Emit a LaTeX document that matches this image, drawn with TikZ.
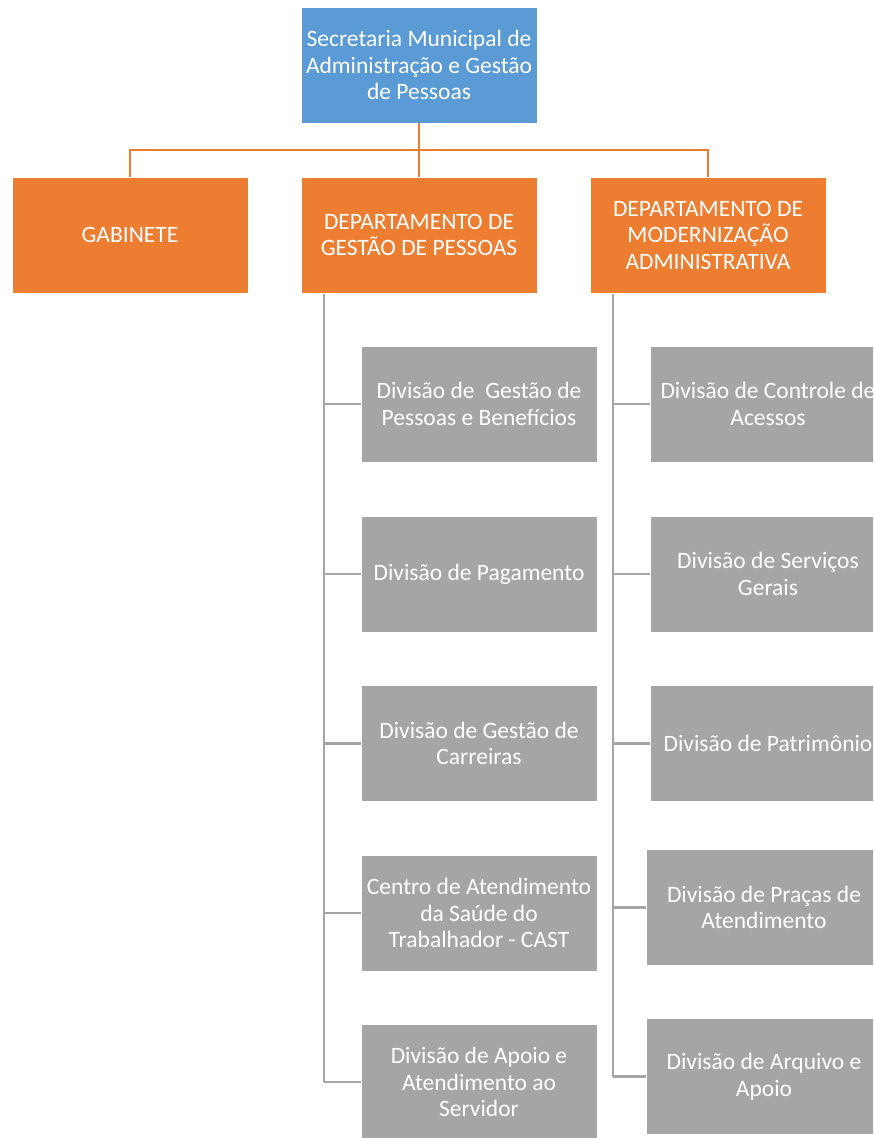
\documentclass[tikz,border=0pt]{standalone}
\usepackage{fontspec}
\setmainfont{Carlito}
\definecolor{cblue}{HTML}{5B9BD5}
\definecolor{corange}{HTML}{ED7D31}
\definecolor{cgray}{HTML}{A5A5A5}
\tikzset{
  box/.style={rectangle, inner sep=0pt, minimum width=236pt, minimum height=116pt,
    align=center, text=white, font=\fontsize{23.5}{26.5}\selectfont,
    draw=white, line width=0.6pt},
  topbox/.style={box, fill=cblue},
  deptbox/.style={box, fill=corange},
  divbox/.style={box, fill=cgray},
  oline/.style={draw=corange, line width=2.5pt},
  gline/.style={draw=cgray, line width=2.5pt},
}
\begin{document}
\begin{tikzpicture}[x=1pt,y=-1pt]
\useasboundingbox (0,0) rectangle (873,1138);
\clip (0,0) rectangle (873,1138);
% top
\node[topbox] (top) at (419,65) {Secretaria Municipal de\\Administração e Gestão\\de Pessoas};
% departments
\node[deptbox] (gab) at (130,235) {GABINETE};
\node[deptbox] (dgp) at (419,235) {DEPARTAMENTO DE\\GESTÃO DE PESSOAS};
\node[deptbox] (dma) at (708,235) {DEPARTAMENTO DE\\MODERNIZAÇÃO\\ADMINISTRATIVA};
% orange connectors
\coordinate (bus) at (419,150);
\draw[oline] (top.south) -- (bus);
\draw[oline] (bus) -| (gab.north);
\draw[oline] (bus) -| (dma.north);
\draw[oline] (bus) -- (dgp.north);
% left divisions
\node[divbox] (a1) at (479,404) {Divisão de~ Gestão de\\Pessoas e Benefícios};
\node[divbox] (a2) at (479,574) {Divisão de Pagamento};
\node[divbox] (a3) at (479,743.5) {Divisão de Gestão de\\Carreiras};
\node[divbox] (a4) at (479,913) {Centro de Atendimento\\da Saúde do\\Trabalhador - CAST};
\node[divbox] (a5) at (479,1082) {Divisão de Apoio e\\Atendimento ao\\Servidor};
% right divisions
\node[divbox] (b1) at (768,404) {Divisão de Controle de\\Acessos};
\node[divbox] (b2) at (768,574) {Divisão de Serviços\\Gerais};
\node[divbox] (b3) at (768,743.5) {Divisão de Patrimônio};
\node[divbox] (b4) at (764,907.5) {Divisão de Praças de\\Atendimento};
\node[divbox] (b5) at (764,1076.5) {Divisão de Arquivo e\\Apoio};
% gray connectors
\coordinate (ls) at (324,294);
\coordinate (rs) at (613,294);
\draw[gline] (ls) -- (ls |- a5.west);
\foreach \n in {a1,a2,a3,a4,a5} \draw[gline] (ls |- \n.west) -- (\n.west);
\draw[gline] (rs) -- (rs |- b5.west);
\foreach \n in {b1,b2,b3,b4,b5} \draw[gline] (rs |- \n.west) -- (\n.west);
\end{tikzpicture}
\end{document}
